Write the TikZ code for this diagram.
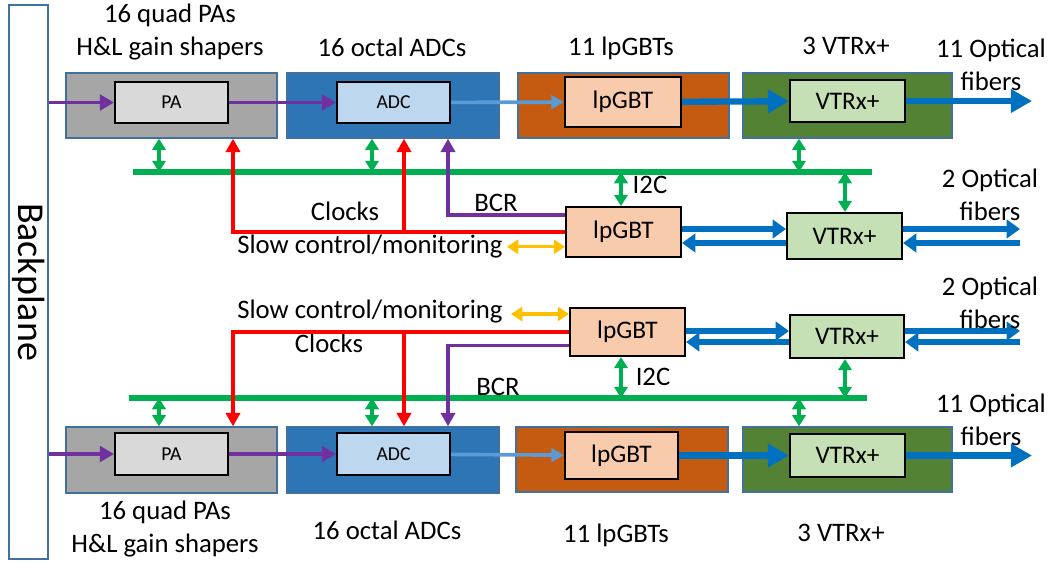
\documentclass[tikz,border=0pt]{standalone}
\usepackage{fontspec}
\setmainfont{Carlito}
\usetikzlibrary{arrows.meta,fit}

\definecolor{grpedge}{HTML}{41719C}
\definecolor{pagray}{HTML}{A6A6A6}
\definecolor{pain}{HTML}{D9D9D9}
\definecolor{adcblue}{HTML}{2E75B6}
\definecolor{adcin}{HTML}{BDD7EE}
\definecolor{gbtorange}{HTML}{C55A11}
\definecolor{gbtin}{HTML}{F8CBAD}
\definecolor{vtrgreen}{HTML}{548235}
\definecolor{vtrin}{HTML}{C5E0B4}
\definecolor{anapurple}{HTML}{7030A0}
\definecolor{clkred}{HTML}{FF0000}
\definecolor{busgreen}{HTML}{00B050}
\definecolor{slowyellow}{HTML}{FFC000}
\definecolor{optblue}{HTML}{0070C0}
\definecolor{digblue}{HTML}{5B9BD5}

\begin{document}
\begin{tikzpicture}[x=0.025cm,y=-0.025cm,
  grp/.style={draw=grpedge, line width=1pt, inner sep=0pt},
  blk/.style={draw=black, line width=1.4pt, inner sep=0pt},
  lbl/.style={font=\fontsize{19}{23.5}\selectfont, align=center, inner sep=0pt},
  chip/.style={label={[font=\fontsize{18}{20}\selectfont]center:#1}},
  small/.style={label={[font=\fontsize{14}{16}\selectfont]center:#1}},
  ana/.style={draw=anapurple, line width=2.8pt, -{Triangle[length=10pt,width=11pt]}},
  bcr/.style={draw=anapurple, line width=2.5pt, -{Triangle[length=9.5pt,width=10pt]}},
  clk/.style={draw=clkred, line width=2.8pt, -{Triangle[length=9.5pt,width=10pt]}},
  dig/.style={draw=digblue, line width=2.6pt, -{Triangle[length=9pt,width=9.5pt]}},
  opt/.style={draw=optblue, line width=4.5pt, -{Triangle[length=15pt,width=16pt]}},
  link/.style={draw=optblue, line width=3.8pt, -{Triangle[length=9.5pt,width=13pt]}},
  bus/.style={draw=busgreen, line width=4.6pt},
  tap/.style={draw=busgreen, line width=2.4pt, {Triangle[length=8pt,width=9.5pt]}-{Triangle[length=8pt,width=9.5pt]}},
  slow/.style={draw=slowyellow, line width=2.4pt, {Triangle[length=8pt,width=10pt]}-{Triangle[length=8pt,width=10pt]}}]
\useasboundingbox (0,0) rectangle (1051,562);

% columns and rows used by the connectors
\coordinate (cPA) at (159,0);
\coordinate (cADC) at (372,0);
\coordinate (kPA) at (233,0);
\coordinate (kADC) at (404,0);
\coordinate (bADC) at (448,0);
\coordinate (cGBT) at (621,0);
\coordinate (cVT) at (799,0);
\coordinate (cVM) at (845,0);
\coordinate (fibT) at (1032,0);
\coordinate (fibM) at (1020,0);
\coordinate (upM1) at (0,229);
\coordinate (dnM1) at (0,243);
\coordinate (upM2) at (0,331);
\coordinate (dnM2) at (0,342);

% backplane
\node[grp, fill=white, fit={(9,5) (48,559)}] (bp) {};
\node[rotate=-90, font=\fontsize{27}{30}\selectfont] (bptxt) at (bp.center) {Backplane};

% top row
\node[grp, fill=pagray, fit={(66,73) (277,138)}] (paT) {};
\node[blk, fill=pain, small=PA, fit={(115,82) (228,123)}] (paTi) {};
\node[grp, fill=adcblue, fit={(287,73) (499,138)}] (adcT) {};
\node[blk, fill=adcin, small=ADC, fit={(337,82) (450,123)}] (adcTi) {};
\node[grp, fill=gbtorange, fit={(518,73) (729,138)}] (gbtT) {};
\node[blk, fill=gbtin, chip=lpGBT, fit={(565,77) (681,127)}] (gbtTi) {};
\node[grp, fill=vtrgreen, fit={(743,73) (952,138)}] (vtrT) {};
\node[blk, fill=vtrin, chip=VTRx+, fit={(790,80) (905,122)}] (vtrTi) {};

\node[lbl] (lpaT) at (170,32) {16 quad PAs\\H\&L gain shapers};
\node[lbl] (ladcT) at (392,47) {16 octal ADCs};
\node[lbl] (lgbtT) at (621,48) {11 lpGBTs};
\node[lbl] (lvtrT) at (846,46) {3 VTRx+};
\node[lbl] (lfibT) at (991,65) {11 Optical\\fibers};

\draw[ana] (paTi.west -| bp.east) -- (paTi.west);
\draw[ana] (paTi) -- (adcTi);
\draw[dig] (adcTi) -- (gbtTi);
\draw[opt] (gbtTi) -- (vtrTi);
\draw[opt] (vtrTi.east) -- (fibT |- vtrTi.east);

% upper control lpGBT
\coordinate (busTl) at (133,172);
\coordinate (busTr) at (872,172);
\draw[bus] (busTl) -- (busTr);
\draw[tap] (cPA |- busTl) -- (cPA |- paT.south);
\draw[tap] (cADC |- busTl) -- (cADC |- adcT.south);
\draw[tap] (cVT |- busTl) -- (cVT |- vtrT.south);

\node[blk, fill=gbtin, chip=lpGBT, fit={(566,207) (681,257)}] (gbtM1) {};
\node[blk, fill=vtrin, chip=VTRx+, fit={(787,213) (902,259)}] (vtrM1) {};
\draw[tap] (cGBT |- busTl) -- (cGBT |- gbtM1.north);
\draw[tap] (cVM |- busTl) -- (cVM |- vtrM1.north);

\draw[clk] (gbtM1.west) -| (kPA |- paT.south);
\draw[clk] (kADC |- gbtM1.west) -- (kADC |- adcT.south);
\draw[bcr] ([yshift=12pt]gbtM1.west) -| (bADC |- adcT.south);
\draw[slow] ([yshift=-10.5pt]gbtM1.west) -- ++(-58,0);

\draw[link] (gbtM1.east |- upM1) -- (vtrM1.west |- upM1);
\draw[link] (vtrM1.west |- dnM1) -- (gbtM1.east |- dnM1);
\draw[link] (vtrM1.east |- upM1) -- (fibM |- upM1);
\draw[link] (fibM |- dnM1) -- (vtrM1.east |- dnM1);

\node[lbl] (lclkM1) at (345,211) {Clocks};
\node[lbl] (lbcrM1) at (496,203) {BCR};
\node[lbl] (lslowM1) at (370,247) {Slow control/monitoring};
\node[lbl] (li2cM1) at (650,185) {I2C};
\node[lbl] (lfibM1) at (990,195) {2 Optical\\fibers};

% lower control lpGBT
\coordinate (busBl) at (129,398);
\coordinate (busBr) at (867,398);
\draw[bus] (busBl) -- (busBr);

\node[blk, fill=gbtin, chip=lpGBT, fit={(570,308) (685,356)}] (gbtM2) {};
\node[blk, fill=vtrin, chip=VTRx+, fit={(790,315) (904,358)}] (vtrM2) {};
\draw[tap] (cGBT |- gbtM2.south) -- (cGBT |- busBl);
\draw[tap] (cVM |- vtrM2.south) -- (cVM |- busBl);

\draw[link] (gbtM2.east |- upM2) -- (vtrM2.west |- upM2);
\draw[link] (vtrM2.west |- dnM2) -- (gbtM2.east |- dnM2);
\draw[link] (vtrM2.east |- upM2) -- (fibM |- upM2);
\draw[link] (fibM |- dnM2) -- (vtrM2.east |- dnM2);

\node[lbl] (lslowM2) at (370,312) {Slow control/monitoring};
\node[lbl] (lclkM2) at (329,343) {Clocks};
\node[lbl] (lbcrM2) at (498,387) {BCR};
\node[lbl] (li2cM2) at (653,377) {I2C};
\node[lbl] (lfibM2) at (990,303) {2 Optical\\fibers};

% bottom row
\node[grp, fill=pagray, fit={(66,427) (277,493)}] (paB) {};
\node[blk, fill=pain, small=PA, fit={(115,433) (228,475)}] (paBi) {};
\node[grp, fill=adcblue, fit={(287,427) (499,493)}] (adcB) {};
\node[blk, fill=adcin, small=ADC, fit={(337,433) (450,475)}] (adcBi) {};
\node[grp, fill=gbtorange, fit={(516,427) (728,492)}] (gbtB) {};
\node[blk, fill=gbtin, chip=lpGBT, fit={(565,432) (678,479)}] (gbtBi) {};
\node[grp, fill=vtrgreen, fit={(743,427) (952,492)}] (vtrB) {};
\node[blk, fill=vtrin, chip=VTRx+, fit={(790,434) (905,477)}] (vtrBi) {};

\draw[tap] (cPA |- busBl) -- (cPA |- paB.north);
\draw[tap] (cADC |- busBl) -- (cADC |- adcB.north);
\draw[tap] (cVT |- busBl) -- (cVT |- vtrB.north);

\draw[clk] (gbtM2.west) -| (kPA |- paB.north);
\draw[clk] (kADC |- gbtM2.west) -- (kADC |- adcB.north);
\draw[bcr] ([yshift=-9.5pt]gbtM2.west) -| (bADC |- adcB.north);
\draw[slow] ([yshift=12.8pt]gbtM2.west) -- ++(-58,0);

\draw[ana] (paBi.west -| bp.east) -- (paBi.west);
\draw[ana] (paBi) -- (adcBi);
\draw[dig] (adcBi) -- (gbtBi);
\draw[opt] (gbtBi) -- (vtrBi);
\draw[opt] (vtrBi.east) -- (fibT |- vtrBi.east);

\node[lbl] (lpaB) at (165,529) {16 quad PAs\\H\&L gain shapers};
\node[lbl] (ladcB) at (387,530) {16 octal ADCs};
\node[lbl] (lgbtB) at (616,535) {11 lpGBTs};
\node[lbl] (lvtrB) at (841,533) {3 VTRx+};
\node[lbl] (lfibB) at (991,420) {11 Optical\\fibers};
\end{tikzpicture}
\end{document}
